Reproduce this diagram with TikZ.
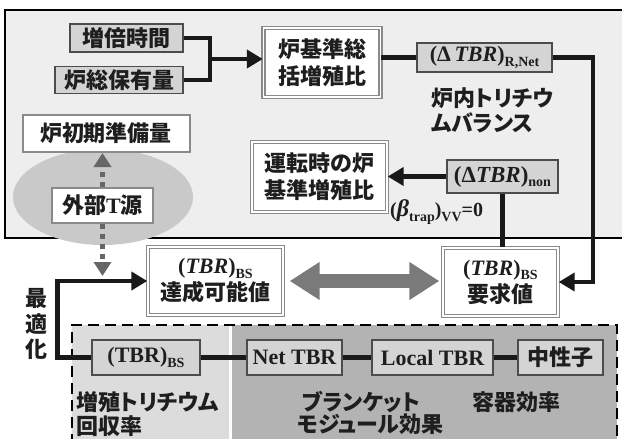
\documentclass[tikz,border=0pt]{standalone}
\usepackage{fontspec}
\setmainfont{Liberation Serif}
\newfontfamily\jp{Noto Sans CJK JP}
\newfontfamily\jpp{Noto Sans CJK JP}[RawFeature=+palt]
\usetikzlibrary{arrows.meta,shapes.geometric}
\newcommand\J[1]{{\jp\bfseries #1}}
\newcommand\JP[1]{{\jpp\bfseries #1}}
\newcommand\mysub[1]{\raisebox{-0.45ex}{\fontsize{14}{14}\selectfont\bfseries #1}}
\definecolor{frameback}{HTML}{EEEEEE}
\definecolor{boxgray}{HTML}{D4D4D4}
\definecolor{bordgray}{HTML}{8A8A8A}
\definecolor{ellgray}{HTML}{C9C9C9}
\definecolor{lightzone}{HTML}{DCDCDC}
\definecolor{darkzone}{HTML}{B3B3B3}
\definecolor{txt}{HTML}{1E1E1E}
\definecolor{dblarrow}{HTML}{7A7A7A}
\begin{document}
\begin{tikzpicture}[x=1pt,y=-1pt,
  every node/.style={text=txt,font=\fontsize{22}{27}\selectfont\bfseries},
  graybox/.style={draw=black!70,fill=boxgray,line width=1.5pt,inner sep=0pt,anchor=center},
  whitebox/.style={draw=bordgray,fill=white,line width=1.4pt,double=white,double distance=1.6pt,inner sep=0pt,align=center,anchor=center},
  thinbox/.style={draw=bordgray,fill=white,line width=2pt,inner sep=0pt,anchor=center},
  lbl/.style={inner sep=0pt,anchor=west},
  link/.style={line width=4.5pt,draw=black!90},
  arr/.style={line width=4.5pt,draw=black!90,-{Triangle[length=16pt,width=18pt]}},
  dotarr/.style={line width=4.5pt,draw=black!60,dash pattern=on 5pt off 5pt,-{Triangle[length=14pt,width=17pt]}}]
\useasboundingbox (0,0) rectangle (622,439);
% top frame
\fill[frameback] (5,10) rectangle (622,238);
\draw[line width=1.6pt] (630,10) -- (5,10) -- (5,238) -- (630,238);
% lower zones
\fill[lightzone] (72,325) rectangle (229,445);
\fill[darkzone] (232,325) rectangle (617,445);
\draw[line width=2.2pt,dash pattern=on 11pt off 6pt] (72,445) -- (72,325) -- (617,325) -- (617,445);
% ellipse
\fill[ellgray] (103,197) ellipse [x radius=90, y radius=48];
% boxes
\node[graybox,minimum width=113,minimum height=28] (dbl) at (126.5,38) {\J{増倍時間}};
\node[graybox,minimum width=128,minimum height=27] (inv) at (119,80) {\J{炉総保有量}};
\node[whitebox,minimum width=117,minimum height=69] (ref) at (322,62.5) {\J{炉基準総}\\\J{括増殖比}};
\node[graybox,minimum width=135,minimum height=29] (rnet) at (484.5,57.5) {(Δ\,\textit{TBR})\mysub{R,Net}};
\node[thinbox,minimum width=167,minimum height=37] (init) at (106,133.5) {\J{炉初期準備量}};
\node[thinbox,minimum width=101,minimum height=35] (ext) at (102.5,205) {\J{外部}T\J{源}};
\node[whitebox,minimum width=135,minimum height=70] (run) at (319.5,177) {\J{運転時の炉}\\\J{基準増殖比}};
\node[graybox,minimum width=111,minimum height=33] (non) at (502.5,176.5) {\fontsize{23}{26}\selectfont(Δ\textit{TBR})\mysub{non}};
\node[whitebox,minimum width=135,minimum height=68] (ach) at (215.5,281) {(\textit{TBR})\mysub{BS}\\\J{達成可能値}};
\node[whitebox,minimum width=115,minimum height=68] (req) at (500.5,282) {(\textit{TBR})\mysub{BS}\\\J{要求値}};
\node[graybox,minimum width=108,minimum height=35] (rec) at (146,357.5) {(TBR)\mysub{BS}};
\node[graybox,minimum width=95,minimum height=35] (net) at (294.5,357.5) {Net TBR};
\node[graybox,minimum width=121,minimum height=35] (loc) at (432.5,357.5) {Local TBR};
\node[graybox,minimum width=85,minimum height=35] (neu) at (560.5,357.5) {\J{中性子}};
% labels
\node[lbl] (l1) at (431,98) {\JP{炉内トリチウ}};
\node[lbl] (l2) at (431,123) {\JP{ムバランス}};
\node[lbl,font=\fontsize{20}{24}\selectfont\bfseries] (beta) at (390,212) {(\textit{\fontsize{24}{24}\selectfont β}\mysub{trap})\mysub{VV}=0};
\node[lbl] (l3) at (76,402) {\JP{増殖トリチウム}};
\node[lbl] (l4) at (76,426) {\JP{回収率}};
\node[lbl] (l5) at (302,402) {\JP{ブランケット}};
\node[lbl] (l6) at (297,424) {\JP{モジュール効果}};
\node[lbl] (l7) at (472,402) {\JP{容器効率}};
\node[inner sep=0pt] (o1) at (36,299) {\J{最}};
\node[inner sep=0pt] (o2) at (36,324) {\J{適}};
\node[inner sep=0pt] (o3) at (36,349) {\J{化}};
% connectors
\coordinate (jn) at (210,59);
\draw[link] (dbl.east) -| (jn);
\draw[link] (inv.east) -| (jn);
\draw[arr] (jn) -- (ref.west |- jn);
\draw[link] (ref.east |- rnet.west) -- (rnet.west);
\draw[arr] (rnet.east) -| ([xshift=40pt]rnet.east |- req.east) -- (req.east);
\draw[arr] (non.west) -- (run.east |- non.west);
\draw[link] (non.south) -- (non.south |- req.north);
\draw[arr] (rec.west) -- ++(-34,0) |- (ach.west);
\draw[dotarr] (ext.north) -- (ext.north |- init.south);
\coordinate (extend) at (102.5,276);
\draw[dotarr] (ext.south) -- (extend);
\draw[line width=14pt,draw=dblarrow,{Triangle[length=30pt,width=36pt]}-{Triangle[length=30pt,width=36pt]},shorten <=6pt,shorten >=3pt] (ach.east) -- (req.west |- ach.east);
\draw[link] (rec.east) -- (net.west);
\draw[link] (net.east) -- (loc.west);
\draw[link] (loc.east) -- (neu.west);
\end{tikzpicture}
\end{document}
